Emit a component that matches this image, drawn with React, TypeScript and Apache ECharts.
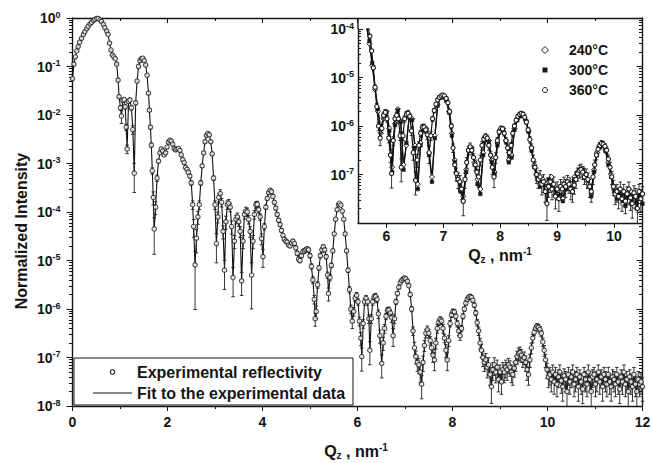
import { useEffect, useRef } from "react";
import * as echarts from "echarts";

// ---- Main plot: experimental reflectivity rows [Qz (nm^-1), log10(I), relative error] ----
const expSegA: number[][] = [
  [0.00,-1.25,0.04],[0.03,-0.95,0.04],[0.06,-0.80,0.03],[0.09,-0.68,0.03],[0.12,-0.59,0.03],[0.15,-0.50,0.03],
  [0.19,-0.42,0.03],[0.23,-0.34,0.03],[0.26,-0.28,0.03],[0.30,-0.22,0.03],[0.33,-0.17,0.03],[0.37,-0.12,0.03],
  [0.40,-0.09,0.03],[0.44,-0.05,0.03],[0.47,-0.03,0.03],[0.51,-0.01,0.03],[0.54,-0.01,0.03],[0.58,-0.04,0.03],
  [0.61,-0.07,0.03],[0.65,-0.13,0.03],[0.68,-0.20,0.03],[0.72,-0.27,0.03],[0.75,-0.34,0.03],[0.78,-0.52,0.03],
  [0.81,-0.66,0.03],[0.84,-0.76,0.03],[0.87,-0.80,0.03],[0.90,-0.84,0.03],[0.93,-0.95,0.04],[0.96,-1.28,0.05],
  [0.98,-1.62,0.06],[1.01,-1.85,0.1],[1.03,-2.02,0.3],[1.06,-1.70,0.08],[1.09,-1.68,0.08],[1.11,-1.83,0.1],
  [1.13,-2.25,0.15],[1.15,-2.70,0.2],[1.18,-1.72,0.08],[1.21,-1.69,0.08],[1.24,-1.85,0.1],[1.27,-2.30,0.2],
  [1.30,-3.20,0.6],[1.33,-1.75,0.08],[1.36,-1.30,0.05],[1.39,-1.00,0.04],[1.42,-0.88,0.04],[1.45,-0.84,0.04],
  [1.48,-0.83,0.04],[1.51,-0.88,0.04],[1.54,-0.97,0.04],[1.57,-1.18,0.05],[1.60,-1.55,0.05],[1.62,-1.90,0.06],
  [1.64,-2.25,0.08],[1.66,-2.62,0.1],[1.68,-3.15,0.15],[1.70,-3.70,0.3],[1.72,-4.35,0.7],[1.75,-3.90,0.3],
  [1.78,-3.30,0.15],[1.81,-2.95,0.08],[1.84,-2.78,0.06],[1.87,-2.70,0.06],[1.90,-2.74,0.06],[1.93,-2.82,0.06],
  [1.96,-2.78,0.06],[1.99,-2.66,0.05],
];
const expSegB: number[][] = [
  [2.02,-2.56,0.05],[2.05,-2.52,0.05],[2.08,-2.54,0.05],[2.11,-2.60,0.05],[2.14,-2.69,0.05],[2.17,-2.72,0.05],
  [2.20,-2.70,0.05],[2.23,-2.69,0.05],[2.26,-2.73,0.05],[2.29,-2.82,0.06],[2.32,-2.92,0.06],[2.35,-2.98,0.06],
  [2.38,-3.08,0.07],[2.41,-3.12,0.07],[2.44,-3.18,0.08],[2.47,-3.26,0.08],[2.50,-3.40,0.1],[2.53,-3.85,0.2],
  [2.55,-4.30,0.4],[2.58,-5.09,0.88],[2.61,-4.54,0.5],[2.64,-4.10,0.3],[2.67,-3.85,0.2],[2.70,-3.40,0.1],
  [2.73,-3.05,0.07],[2.76,-2.78,0.06],[2.79,-2.55,0.05],[2.82,-2.42,0.05],[2.85,-2.38,0.05],[2.88,-2.41,0.05],
  [2.91,-2.55,0.05],[2.94,-2.80,0.06],[2.97,-3.30,0.1],[3.00,-3.85,0.2],[3.03,-4.65,0.6],[3.06,-4.10,0.25],
  [3.08,-3.70,0.2],[3.11,-3.62,0.2],[3.14,-3.80,0.2],[3.17,-4.40,0.3],[3.20,-5.20,0.6],[3.23,-4.20,0.3],
  [3.26,-3.85,0.2],[3.29,-3.82,0.2],[3.32,-3.90,0.2],[3.35,-4.30,0.3],[3.38,-5.35,0.6],[3.41,-4.60,0.3],
  [3.44,-4.15,0.2],[3.47,-4.10,0.2],[3.50,-4.20,0.2],[3.53,-4.40,0.25],[3.56,-5.42,0.5],[3.59,-4.60,0.3],
  [3.62,-4.05,0.2],[3.65,-3.98,0.2],[3.68,-4.00,0.2],[3.71,-4.15,0.2],[3.74,-4.40,0.25],[3.77,-5.30,0.8],
  [3.80,-4.60,0.3],[3.83,-4.05,0.2],[3.86,-3.85,0.15],[3.89,-3.84,0.15],[3.92,-3.95,0.15],[3.95,-4.10,0.15],
  [3.98,-4.55,0.25],
];
const expSegC: number[][] = [
  [4.01,-4.92,0.4],[4.04,-4.30,0.15],[4.07,-3.90,0.1],[4.10,-3.72,0.08],[4.13,-3.60,0.08],[4.16,-3.55,0.08],
  [4.19,-3.58,0.08],[4.22,-3.68,0.08],[4.25,-3.80,0.08],[4.28,-3.92,0.08],[4.31,-4.05,0.08],[4.34,-4.17,0.08],
  [4.37,-4.26,0.08],[4.40,-4.38,0.08],[4.43,-4.48,0.08],[4.46,-4.56,0.08],[4.49,-4.60,0.08],[4.52,-4.62,0.08],
  [4.55,-4.68,0.08],[4.58,-4.70,0.08],[4.61,-4.64,0.08],[4.64,-4.60,0.08],[4.67,-4.65,0.08],[4.70,-4.74,0.08],
  [4.73,-4.85,0.1],[4.76,-4.97,0.1],[4.79,-5.00,0.1],[4.82,-4.90,0.1],[4.85,-4.82,0.1],[4.88,-4.80,0.1],
  [4.91,-4.78,0.1],[4.94,-4.76,0.1],[4.97,-4.78,0.1],[5.00,-4.90,0.1],[5.03,-5.12,0.12],[5.06,-5.40,0.15],
  [5.09,-5.80,0.2],[5.11,-6.20,0.3],[5.13,-6.05,0.3],[5.16,-5.50,0.15],[5.19,-5.15,0.1],[5.22,-4.90,0.1],
  [5.25,-4.78,0.1],[5.28,-4.72,0.1],[5.31,-4.78,0.1],[5.34,-4.92,0.1],[5.37,-5.30,0.15],[5.39,-5.68,0.3],
  [5.42,-5.35,0.15],[5.45,-5.10,0.1],[5.48,-4.80,0.08],[5.51,-4.45,0.06],[5.54,-4.15,0.05],[5.57,-3.95,0.05],
  [5.60,-3.85,0.05],[5.62,-3.82,0.05],[5.65,-3.86,0.05],[5.68,-3.98,0.05],[5.71,-4.15,0.05],[5.74,-4.45,0.06],
  [5.77,-4.80,0.08],[5.80,-5.20,0.1],[5.83,-5.60,0.15],[5.86,-6.00,0.2],[5.89,-6.25,0.3],[5.92,-6.05,0.2],
  [5.95,-5.78,0.15],[5.98,-5.72,0.15],
];
const expSegD: number[][] = [
  [6.01,-5.85,0.15],[6.04,-6.25,0.2],[6.07,-6.60,0.3],[6.09,-6.98,0.5],[6.12,-6.30,0.2],[6.15,-5.85,0.15],
  [6.18,-5.78,0.15],[6.21,-5.85,0.15],[6.24,-6.20,0.2],[6.26,-6.85,0.5],[6.29,-6.20,0.2],[6.32,-5.85,0.15],
  [6.35,-5.76,0.15],[6.38,-5.74,0.15],[6.41,-5.80,0.15],[6.44,-6.10,0.2],[6.47,-6.55,0.3],[6.51,-7.12,0.5],
  [6.54,-6.70,0.3],[6.57,-6.40,0.2],[6.60,-6.15,0.15],[6.63,-6.03,0.15],[6.66,-6.02,0.15],[6.69,-6.08,0.15],
  [6.72,-6.18,0.2],[6.75,-6.55,0.4],[6.78,-6.20,0.2],[6.81,-5.85,0.12],[6.84,-5.68,0.1],[6.87,-5.55,0.08],
  [6.90,-5.46,0.08],[6.93,-5.41,0.08],[6.96,-5.38,0.08],[6.99,-5.36,0.08],[7.02,-5.38,0.08],[7.05,-5.43,0.08],
  [7.08,-5.52,0.08],[7.11,-5.70,0.1],[7.14,-6.00,0.12],[7.17,-6.45,0.2],[7.20,-6.80,0.3],[7.23,-6.98,0.3],
  [7.26,-7.10,0.35],[7.29,-7.15,0.35],[7.32,-7.30,0.4],[7.35,-7.55,0.5],[7.38,-7.10,0.35],[7.41,-6.75,0.25],
  [7.44,-6.50,0.2],[7.47,-6.43,0.2],[7.50,-6.50,0.2],[7.53,-6.65,0.2],[7.56,-6.80,0.25],[7.59,-6.95,0.3],
  [7.62,-7.05,0.4],[7.65,-6.70,0.25],[7.68,-6.40,0.2],[7.71,-6.27,0.15],[7.74,-6.22,0.15],[7.77,-6.25,0.15],
  [7.80,-6.40,0.2],[7.83,-6.60,0.2],[7.86,-6.85,0.3],[7.89,-7.05,0.4],[7.92,-6.65,0.25],[7.95,-6.30,0.15],
  [7.98,-6.12,0.12],[8.01,-6.05,0.12],[8.04,-6.06,0.12],[8.07,-6.15,0.12],[8.10,-6.30,0.15],[8.13,-6.45,0.2],
  [8.16,-6.55,0.2],[8.19,-6.40,0.15],[8.22,-6.15,0.12],[8.25,-6.00,0.1],[8.28,-5.88,0.1],[8.31,-5.80,0.1],
  [8.34,-5.76,0.1],[8.37,-5.74,0.1],[8.40,-5.76,0.1],[8.43,-5.82,0.1],[8.46,-5.92,0.1],[8.49,-6.08,0.12],
];
const expSegE: number[][] = [
  [8.52,-6.28,0.15],[8.55,-6.45,0.2],[8.58,-6.70,0.25],[8.61,-6.85,0.3],[8.64,-7.00,0.35],[8.67,-7.10,0.35],
  [8.70,-7.05,0.35],[8.73,-7.20,0.4],[8.76,-7.15,0.4],[8.79,-7.35,0.4],[8.82,-7.60,0.55],[8.85,-7.25,0.4],
  [8.88,-7.15,0.4],[8.91,-7.30,0.4],[8.94,-7.20,0.4],[8.97,-7.45,0.45],[9.00,-7.30,0.4],[9.03,-7.50,0.45],
  [9.06,-7.25,0.4],[9.09,-7.30,0.4],[9.12,-7.20,0.4],[9.15,-7.25,0.4],[9.18,-7.15,0.35],[9.21,-7.20,0.35],
  [9.24,-7.30,0.4],[9.27,-7.35,0.4],[9.30,-7.22,0.35],[9.33,-7.10,0.35],[9.36,-6.98,0.3],[9.39,-6.92,0.3],
  [9.42,-6.90,0.3],[9.45,-6.95,0.3],[9.48,-7.05,0.3],[9.51,-7.00,0.3],[9.54,-7.10,0.35],[9.57,-7.25,0.4],
  [9.60,-7.35,0.4],[9.63,-7.05,0.3],[9.66,-6.80,0.25],[9.69,-6.60,0.2],[9.72,-6.48,0.15],[9.75,-6.40,0.15],
  [9.78,-6.36,0.15],[9.81,-6.38,0.15],[9.84,-6.42,0.15],[9.87,-6.50,0.15],[9.90,-6.68,0.2],[9.93,-6.85,0.25],
  [9.96,-7.05,0.3],[9.99,-7.25,0.35],[10.02,-7.40,0.4],
];
const expSegF: number[][] = [
  [10.05,-7.35,0.4],[10.08,-7.45,0.45],[10.11,-7.30,0.4],[10.14,-7.50,0.45],[10.17,-7.35,0.4],[10.20,-7.55,0.45],
  [10.23,-7.40,0.4],[10.26,-7.30,0.4],[10.29,-7.48,0.45],[10.32,-7.60,0.5],[10.35,-7.38,0.4],[10.38,-7.45,0.45],
  [10.41,-7.70,0.5],[10.44,-7.35,0.4],[10.47,-7.50,0.45],[10.50,-7.40,0.4],[10.53,-7.30,0.4],[10.56,-7.55,0.45],
  [10.59,-7.45,0.45],[10.62,-7.35,0.4],[10.65,-7.60,0.5],[10.68,-7.40,0.4],[10.71,-7.50,0.45],[10.74,-7.65,0.5],
  [10.77,-7.35,0.4],[10.80,-7.45,0.45],[10.83,-7.55,0.45],[10.86,-7.30,0.4],[10.89,-7.45,0.45],[10.92,-7.70,0.5],
  [10.95,-7.40,0.4],[10.98,-7.35,0.4],[11.01,-7.55,0.45],[11.04,-7.45,0.45],[11.07,-7.30,0.4],[11.10,-7.50,0.45],
  [11.13,-7.40,0.4],[11.16,-7.60,0.5],[11.19,-7.35,0.4],[11.22,-7.45,0.45],[11.25,-7.55,0.45],[11.28,-7.35,0.4],
  [11.31,-7.50,0.45],[11.34,-7.60,0.5],[11.37,-7.40,0.4],[11.40,-7.45,0.45],[11.43,-7.55,0.45],[11.46,-7.35,0.4],
  [11.49,-7.50,0.45],[11.52,-7.65,0.5],[11.55,-7.40,0.4],[11.58,-7.50,0.45],[11.61,-7.30,0.4],[11.64,-7.55,0.45],
  [11.67,-7.45,0.45],[11.70,-7.70,0.5],[11.73,-7.40,0.4],[11.76,-7.50,0.45],[11.79,-7.60,0.5],[11.82,-7.35,0.4],
  [11.85,-7.55,0.45],[11.88,-7.70,0.5],[11.91,-7.45,0.45],[11.94,-7.55,0.45],[11.97,-7.50,0.45],[12.00,-7.60,0.5],
];

// ---- Inset: [Qz, log10 I (240 °C), log10 I (300 °C)]; 360 °C is the main measurement ----
const insetRows: number[][] = [
  [5.60,-3.85,-3.80],[5.65,-3.95,-3.92],[5.70,-4.30,-4.25],[5.75,-4.75,-4.70],[5.80,-5.25,-5.20],[5.85,-5.70,-5.65],
  [5.90,-6.15,-6.05],[5.95,-5.85,-5.80],[6.00,-5.70,-5.72],[6.05,-6.05,-6.10],[6.10,-6.85,-6.95],[6.15,-5.95,-5.98],
  [6.20,-5.65,-5.68],[6.25,-5.90,-5.92],[6.30,-6.80,-6.90],[6.35,-6.40,-6.35],[6.40,-5.80,-5.82],[6.45,-5.85,-5.88],
  [6.50,-6.40,-6.45],[6.55,-7.20,-7.30],[6.60,-6.35,-6.40],[6.65,-6.05,-6.08],[6.70,-6.05,-6.10],[6.75,-6.55,-6.60],
  [6.80,-7.05,-7.15],[6.85,-6.20,-6.25],[6.90,-5.55,-5.58],[6.95,-5.40,-5.42],[7.00,-5.38,-5.40],[7.05,-5.45,-5.48],
  [7.10,-5.70,-5.72],[7.15,-6.15,-6.20],[7.20,-6.70,-6.75],[7.25,-7.05,-7.10],[7.30,-7.30,-7.35],[7.35,-7.45,-7.55],
  [7.40,-6.90,-6.95],[7.45,-6.48,-6.52],[7.50,-6.45,-6.48],[7.55,-6.75,-6.80],[7.60,-7.10,-7.20],[7.65,-7.30,-7.40],
  [7.70,-6.55,-6.60],[7.75,-6.22,-6.26],[7.80,-6.30,-6.33],[7.85,-6.70,-6.75],[7.90,-6.95,-7.00],[7.95,-6.35,-6.40],
  [8.00,-6.08,-6.10],[8.05,-6.05,-6.08],[8.10,-6.30,-6.32],[8.15,-6.70,-6.75],[8.20,-6.60,-6.65],[8.25,-6.05,-6.08],
  [8.30,-5.85,-5.88],[8.35,-5.78,-5.80],[8.40,-5.76,-5.78],[8.45,-5.88,-5.90],[8.50,-6.10,-6.12],[8.55,-6.45,-6.50],
  [8.60,-6.80,-6.85],[8.65,-7.05,-7.10],[8.70,-7.20,-7.25],[8.75,-7.10,-7.15],[8.80,-7.30,-7.35],[8.85,-7.15,-7.10],
  [8.90,-7.05,-7.20],[8.95,-7.25,-7.30],[9.00,-7.40,-7.45],[9.05,-7.35,-7.25],[9.10,-7.50,-7.55],[9.15,-7.20,-7.30],
  [9.20,-7.10,-7.15],[9.25,-7.20,-7.25],[9.30,-7.05,-7.10],[9.35,-6.95,-6.98],[9.40,-6.90,-6.92],[9.45,-6.88,-6.90],
  [9.50,-7.00,-7.05],[9.55,-7.20,-7.25],[9.60,-7.40,-7.45],[9.65,-6.90,-6.95],[9.70,-6.55,-6.60],[9.75,-6.40,-6.44],
  [9.80,-6.38,-6.40],[9.85,-6.50,-6.52],[9.90,-6.75,-6.80],[9.95,-7.00,-7.05],[10.00,-7.30,-7.35],[10.05,-7.45,-7.50],
  [10.10,-7.35,-7.40],[10.15,-7.60,-7.55],[10.20,-7.40,-7.65],[10.25,-7.55,-7.45],[10.30,-7.35,-7.60],[10.35,-7.65,-7.40],
  [10.40,-7.45,-7.70],[10.45,-7.55,-7.50],[10.50,-7.40,-7.60],
];

// ---- Axis ticks / labels ----
const mainXTicks = [0, 2, 4, 6, 8, 10, 12];
const mainYDecades = [-8, -7, -6, -5, -4, -3, -2, -1, 0];
const insetXTicks = [6, 7, 8, 9, 10];
const insetXMinor = [6.5, 7.5, 8.5, 9.5];
const insetYDecades = [-8, -7, -6, -5, -4];
const insetYLabelDecades = [-7, -6, -5, -4];
const legendMain = ["Experimental reflectivity", "Fit to the experimental data"];
const legendInset = ["240°C", "300°C", "360°C"];

const FONT = "'Liberation Sans', Arial, Helvetica, sans-serif";
const INK = "#141414";
const MARK = "#1a1a1a";

const expRows = [...expSegA, ...expSegB, ...expSegC, ...expSegD, ...expSegE, ...expSegF];
const pow10 = (v: number) => Math.pow(10, v);
const minorLog = (decs: number[]) => {
  const out: number[] = [];
  for (let i = 0; i < decs.length - 1; i++) for (let d = 2; d <= 9; d++) out.push(d * pow10(decs[i]));
  return out;
};

const labelRich = {
  b: { fontSize: 14, fontWeight: "bold", fontFamily: FONT, color: INK, lineHeight: 16 },
  s: { fontSize: 9, fontWeight: "bold", fontFamily: FONT, color: INK, verticalAlign: "top", lineHeight: 6 },
};
const titleRich = {
  b: { fontSize: 16, fontWeight: "bold", fontFamily: FONT, fill: INK, lineHeight: 18 },
  sub: { fontSize: 10, fontWeight: "bold", fontFamily: FONT, fill: INK, verticalAlign: "bottom", lineHeight: 1 },
  sup: { fontSize: 10, fontWeight: "bold", fontFamily: FONT, fill: INK, verticalAlign: "top", lineHeight: 6 },
};
const expFmt = (v: number) => `{b|10}{s|${Math.round(Math.log10(v))}}`;

const errBars = (rows: number[][], xi: number, yi: number) => ({
  type: "custom",
  xAxisIndex: xi,
  yAxisIndex: yi,
  silent: true,
  z: 3,
  encode: { x: 0, y: [1, 2] },
  data: rows.map((r) => [r[0], pow10(r[1]) * (1 - r[2]), pow10(r[1]) * (1 + r[2])]),
  renderItem: (params: any, api: any) => {
    const x = api.value(0);
    const top = api.coord([x, api.value(2)]);
    const bot = api.coord([x, api.value(1)]);
    const cs = params.coordSys;
    const children: any[] = [];
    if (top[0] < cs.x - 0.5 || top[0] > cs.x + cs.width + 0.5) return { type: "group", children };
    const y0 = Math.max(top[1], cs.y);
    const y1 = Math.min(bot[1], cs.y + cs.height);
    if (y1 <= y0) return { type: "group", children };
    const st = { stroke: "#202020", lineWidth: 0.9 };
    children.push({ type: "line", shape: { x1: top[0], y1: y0, x2: top[0], y2: y1 }, style: st });
    if (top[1] >= cs.y) children.push({ type: "line", shape: { x1: top[0] - 1.8, y1: top[1], x2: top[0] + 1.8, y2: top[1] }, style: st });
    if (bot[1] <= cs.y + cs.height) children.push({ type: "line", shape: { x1: top[0] - 1.8, y1: bot[1], x2: top[0] + 1.8, y2: bot[1] }, style: st });
    return { type: "group", children };
  },
});

export default function App() {
  const ref = useRef<HTMLDivElement>(null);
  useEffect(() => {
    document.body.style.margin = "0";
    if (!ref.current) return;
    const chart = echarts.init(ref.current, undefined, { renderer: "svg" });

    const line = { lineStyle: { color: INK, width: 1.4 } };
    const tick = (len: number, inside: boolean) => ({ show: true, length: len, inside, lineStyle: { color: INK, width: 1 } });
    const noSplit = { show: false };
    const legendText = { fontSize: 16, fontWeight: "bold", fontFamily: FONT, fill: INK };
    const insetLegendText = { fontSize: 14, fontWeight: "bold", fontFamily: FONT, fill: INK };

    const inset360 = expRows.filter((r) => r[0] >= 5.6 && r[0] <= 10.5);

    const option: any = {
      animation: false,
      backgroundColor: "#ffffff",
      grid: [
        { left: 72.5, top: 18, right: 11.5, bottom: 57 },
        { left: 358, top: 29, right: 11.5, bottom: 240 },
      ],
      xAxis: [
        {
          type: "value", gridIndex: 0, position: "bottom", min: 0, max: 12, interval: 2,
          axisLine: { show: true, onZero: false, ...line },
          axisTick: tick(5, false),
          minorTick: { show: true, splitNumber: 2, length: 3, lineStyle: { color: INK, width: 1 } },
          axisLabel: { customValues: mainXTicks, fontSize: 14, fontWeight: "bold", fontFamily: FONT, color: INK, margin: 9 },
          splitLine: noSplit, minorSplitLine: noSplit,
        },
        {
          type: "value", gridIndex: 0, position: "top", min: 0, max: 12, interval: 2,
          axisLine: { show: true, onZero: false, ...line },
          axisTick: tick(5, true),
          minorTick: { show: true, splitNumber: 2, length: 3, lineStyle: { color: INK, width: 1 } },
          axisLabel: { show: false },
          splitLine: noSplit,
        },
        {
          type: "value", gridIndex: 1, position: "bottom", min: 5.5, max: 10.5,
          axisLine: { show: true, onZero: false, ...line },
          axisTick: { ...tick(5, false), customValues: insetXTicks },
          axisLabel: { customValues: insetXTicks, fontSize: 14, fontWeight: "bold", fontFamily: FONT, color: INK, margin: 6 },
          splitLine: noSplit,
        },
        {
          type: "value", gridIndex: 1, position: "bottom", min: 5.5, max: 10.5,
          axisLine: { show: false, onZero: false },
          axisTick: { ...tick(3, false), customValues: insetXMinor },
          axisLabel: { show: false },
          splitLine: noSplit,
        },
      ],
      yAxis: [
        {
          type: "log", logBase: 10, gridIndex: 0, position: "left", min: 1e-8, max: 1,
          axisLine: { show: true, onZero: false, ...line },
          axisTick: { ...tick(6, false), customValues: mainYDecades.map(pow10) },
          axisLabel: { customValues: mainYDecades.map(pow10), formatter: expFmt, rich: labelRich, margin: 12 },
          splitLine: noSplit,
        },
        {
          type: "log", logBase: 10, gridIndex: 0, position: "left", min: 1e-8, max: 1,
          axisLine: { show: false, onZero: false },
          axisTick: { ...tick(3.5, false), customValues: minorLog(mainYDecades) },
          axisLabel: { show: false },
          splitLine: noSplit,
        },
        {
          type: "log", logBase: 10, gridIndex: 0, position: "right", min: 1e-8, max: 1,
          axisLine: { show: true, onZero: false, ...line },
          axisTick: { ...tick(6, true), customValues: mainYDecades.map(pow10) },
          axisLabel: { show: false },
          splitLine: noSplit,
        },
        {
          type: "log", logBase: 10, gridIndex: 0, position: "right", min: 1e-8, max: 1,
          axisLine: { show: false, onZero: false },
          axisTick: { ...tick(3.5, true), customValues: minorLog(mainYDecades) },
          axisLabel: { show: false },
          splitLine: noSplit,
        },
        {
          type: "log", logBase: 10, gridIndex: 1, position: "left", min: 1e-8, max: 1e-4,
          axisLine: { show: true, onZero: false, ...line },
          axisTick: { ...tick(5, true), customValues: insetYDecades.map(pow10) },
          axisLabel: { customValues: insetYLabelDecades.map(pow10), formatter: expFmt, rich: labelRich, margin: 4 },
          splitLine: noSplit,
        },
        {
          type: "log", logBase: 10, gridIndex: 1, position: "left", min: 1e-8, max: 1e-4,
          axisLine: { show: false, onZero: false },
          axisTick: { ...tick(3, true), customValues: minorLog(insetYDecades) },
          axisLabel: { show: false },
          splitLine: noSplit,
        },
      ],
      series: [
        {
          name: legendMain[1], type: "line", xAxisIndex: 0, yAxisIndex: 0, z: 2,
          showSymbol: false, symbol: "none", silent: true,
          lineStyle: { color: "#111111", width: 1.1 },
          data: expRows.map((r) => [r[0], pow10(r[1])]),
        },
        errBars(expRows, 0, 0),
        {
          name: legendMain[0], type: "scatter", xAxisIndex: 0, yAxisIndex: 0, z: 4, silent: true,
          symbol: "circle", symbolSize: 4.4,
          itemStyle: { color: "#ffffff", borderColor: MARK, borderWidth: 1.1 },
          data: expRows.map((r) => [r[0], pow10(r[1])]),
        },
        // inset
        {
          name: legendInset[0], type: "line", xAxisIndex: 2, yAxisIndex: 4, z: 4, silent: true,
          symbol: "diamond", symbolSize: 5, showSymbol: true, clip: true,
          lineStyle: { color: "#111111", width: 1.2 },
          itemStyle: { color: "#ffffff", borderColor: MARK, borderWidth: 1 },
          data: insetRows.map((r) => [r[0], pow10(r[1])]),
        },
        {
          name: legendInset[1], type: "line", xAxisIndex: 2, yAxisIndex: 4, z: 4, silent: true,
          symbol: "rect", symbolSize: 3.6, showSymbol: true, clip: true,
          lineStyle: { color: "#111111", width: 1.2 },
          itemStyle: { color: "#1a1a1a", borderColor: "#1a1a1a", borderWidth: 0.5 },
          data: insetRows.map((r) => [r[0], pow10(r[2])]),
        },
        errBars(inset360, 2, 4),
        {
          name: legendInset[2], type: "line", xAxisIndex: 2, yAxisIndex: 4, z: 5, silent: true,
          symbol: "circle", symbolSize: 4.2, showSymbol: true, clip: true,
          lineStyle: { color: "#111111", width: 1.2 },
          itemStyle: { color: "#ffffff", borderColor: MARK, borderWidth: 1.1 },
          data: inset360.map((r) => [r[0], pow10(r[1])]),
        },
      ],
      graphic: [
        // inset left axis continues up to the frame
        { type: "line", shape: { x1: 358, y1: 18, x2: 358, y2: 29 }, style: { stroke: INK, lineWidth: 1.4 }, z: 10 },
        // axis titles
        {
          type: "text", x: 356, y: 451, z: 10,
          style: { text: "{b|Q}{sub|z}{b| , nm}{sup|-1}", align: "center", verticalAlign: "middle", rich: titleRich },
        },
        {
          type: "text", x: 500, y: 255, z: 10,
          style: { text: "{b|Q}{sub|z}{b| , nm}{sup|-1}", align: "center", verticalAlign: "middle", rich: titleRich },
        },
        {
          type: "text", x: 21, y: 231, rotation: Math.PI / 2, z: 10,
          style: { text: "Normalized Intensity", align: "center", verticalAlign: "middle", ...legendText },
        },
        // main legend
        { type: "rect", shape: { x: 74, y: 358, width: 279, height: 47 }, style: { fill: "#ffffff", stroke: INK, lineWidth: 1 }, z: 8 },
        { type: "circle", shape: { cx: 112.5, cy: 372, r: 2.2 }, style: { fill: "#ffffff", stroke: MARK, lineWidth: 1.1 }, z: 9 },
        { type: "text", x: 137, y: 372, z: 9, style: { text: legendMain[0], verticalAlign: "middle", ...legendText } },
        { type: "line", shape: { x1: 93, y1: 393, x2: 132, y2: 393 }, style: { stroke: "#111111", lineWidth: 1.1 }, z: 9 },
        { type: "text", x: 137, y: 393, z: 9, style: { text: legendMain[1], verticalAlign: "middle", ...legendText } },
        // inset legend
        { type: "polygon", shape: { points: [[545, 46.5], [548.5, 50], [545, 53.5], [541.5, 50]] }, style: { fill: "#ffffff", stroke: MARK, lineWidth: 1 }, z: 9 },
        { type: "rect", shape: { x: 542.5, y: 67.5, width: 5, height: 5 }, style: { fill: "#1a1a1a" }, z: 9 },
        { type: "circle", shape: { cx: 545, cy: 90, r: 2.5 }, style: { fill: "#ffffff", stroke: MARK, lineWidth: 1 }, z: 9 },
        { type: "text", x: 569, y: 50, z: 9, style: { text: legendInset[0], verticalAlign: "middle", ...insetLegendText } },
        { type: "text", x: 569, y: 70, z: 9, style: { text: legendInset[1], verticalAlign: "middle", ...insetLegendText } },
        { type: "text", x: 569, y: 90, z: 9, style: { text: legendInset[2], verticalAlign: "middle", ...insetLegendText } },
      ],
    };
    chart.setOption(option);
    return () => chart.dispose();
  }, []);
  return <div ref={ref} style={{ width: 654, height: 463 }} />;
}
